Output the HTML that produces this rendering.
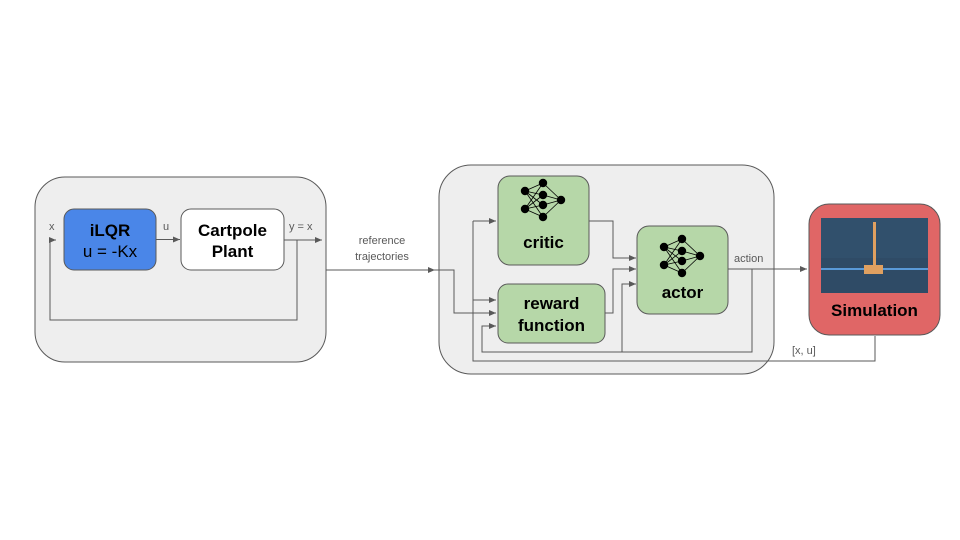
<!DOCTYPE html>
<html><head><meta charset="utf-8"><style>
html,body{margin:0;padding:0;background:#fff;}
svg{display:block;font-family:"Liberation Sans",Arial,sans-serif;}
</style></head><body>
<svg width="960" height="540" viewBox="0 0 960 540" xmlns="http://www.w3.org/2000/svg">
<defs>
<marker id="a" markerWidth="8" markerHeight="8" refX="7" refY="3" orient="auto" markerUnits="userSpaceOnUse">
<path d="M0,0 L7,3 L0,6 z" fill="#595959"/></marker>
<g id="nn" fill="#000" stroke="#000" stroke-width="0.8">
<line x1="-18" y1="-9" x2="0" y2="-17"/><line x1="-18" y1="-9" x2="0" y2="-5"/><line x1="-18" y1="-9" x2="0" y2="5"/><line x1="-18" y1="-9" x2="0" y2="17"/>
<line x1="-18" y1="9" x2="0" y2="-17"/><line x1="-18" y1="9" x2="0" y2="-5"/><line x1="-18" y1="9" x2="0" y2="5"/><line x1="-18" y1="9" x2="0" y2="17"/>
<line x1="0" y1="-17" x2="18" y2="0"/><line x1="0" y1="-5" x2="18" y2="0"/><line x1="0" y1="5" x2="18" y2="0"/><line x1="0" y1="17" x2="18" y2="0"/>
<circle cx="-18" cy="-9" r="3.8"/><circle cx="-18" cy="9" r="3.8"/>
<circle cx="0" cy="-17" r="3.8"/><circle cx="0" cy="-5" r="3.8"/><circle cx="0" cy="5" r="3.8"/><circle cx="0" cy="17" r="3.8"/>
<circle cx="18" cy="0" r="3.8"/>
</g>
</defs>
<!-- containers -->
<rect x="35" y="177" width="291" height="185" rx="30" fill="#eeeeee" stroke="#595959" stroke-width="1"/>
<rect x="439" y="165" width="335" height="209" rx="32" fill="#eeeeee" stroke="#595959" stroke-width="1"/>
<!-- left nodes -->
<rect x="64" y="209" width="92" height="61" rx="10" fill="#4a86e8" stroke="#595959" stroke-width="1"/>
<text x="110" y="236" text-anchor="middle" font-size="17" font-weight="bold">iLQR</text>
<text x="110" y="257" text-anchor="middle" font-size="17">u = -Kx</text>
<rect x="181" y="209" width="103" height="61" rx="10" fill="#fff" stroke="#595959" stroke-width="1"/>
<text x="232.5" y="236" text-anchor="middle" font-size="17" font-weight="bold">Cartpole</text>
<text x="232.5" y="257" text-anchor="middle" font-size="17" font-weight="bold">Plant</text>
<g stroke="#595959" stroke-width="1" fill="none">
<line x1="156" y1="239.5" x2="180" y2="239.5" marker-end="url(#a)"/>
<line x1="284" y1="240" x2="322" y2="240" marker-end="url(#a)"/>
<polyline points="297,240 297,320 50,320 50,240 56,240" marker-end="url(#a)"/>
<polyline points="326,270 435,270" marker-end="url(#a)"/>
<polyline points="435,270 454,270 454,313 496,313" marker-end="url(#a)"/>
<polyline points="473,221 496,221" marker-end="url(#a)"/>
<polyline points="473,300 496,300" marker-end="url(#a)"/>
<polyline points="875,336 875,361 473,361 473,221"/>
<polyline points="589,221 613,221 613,258 636,258" marker-end="url(#a)"/>
<polyline points="605,313 613,313 613,269 636,269" marker-end="url(#a)"/>
<polyline points="622,352 622,284 636,284" marker-end="url(#a)"/>
<polyline points="752,269 752,352 482,352 482,326 496,326" marker-end="url(#a)"/>
<line x1="728" y1="269" x2="807" y2="269" marker-end="url(#a)"/>
</g>
<g fill="#595959" font-size="11">
<text x="49" y="230">x</text>
<text x="163" y="230">u</text>
<text x="289" y="230">y = x</text>
<text x="382" y="244" text-anchor="middle">reference</text>
<text x="382" y="260" text-anchor="middle">trajectories</text>
<text x="734" y="262">action</text>
<text x="792" y="354">[x, u]</text>
</g>
<!-- right nodes -->
<rect x="498" y="176" width="91" height="89" rx="12" fill="#b6d7a8" stroke="#595959" stroke-width="1"/>
<use href="#nn" x="543" y="200"/>
<text x="543.5" y="248" text-anchor="middle" font-size="17" font-weight="bold">critic</text>
<rect x="498" y="284" width="107" height="59" rx="10" fill="#b6d7a8" stroke="#595959" stroke-width="1"/>
<text x="551.5" y="309" text-anchor="middle" font-size="17" font-weight="bold">reward</text>
<text x="551.5" y="331" text-anchor="middle" font-size="17" font-weight="bold">function</text>
<rect x="637" y="226" width="91" height="88" rx="12" fill="#b6d7a8" stroke="#595959" stroke-width="1"/>
<use href="#nn" x="682" y="256"/>
<text x="682.5" y="298" text-anchor="middle" font-size="17" font-weight="bold">actor</text>
<!-- simulation -->
<rect x="809" y="204" width="131" height="131" rx="20" fill="#e06666" stroke="#595959" stroke-width="1"/>
<rect x="821" y="218" width="107" height="75" fill="#2f4b66"/>
<rect x="821" y="218" width="107" height="40" fill="#34536f" opacity="0.6"/>
<rect x="821" y="268" width="107" height="2" fill="#5a9ad8"/>
<rect x="873" y="222" width="3" height="44" fill="#e0a060"/>
<rect x="864" y="265" width="19" height="9" fill="#e0a060"/>
<text x="874.5" y="316" text-anchor="middle" font-size="17" font-weight="bold">Simulation</text>
</svg>
</body></html>
